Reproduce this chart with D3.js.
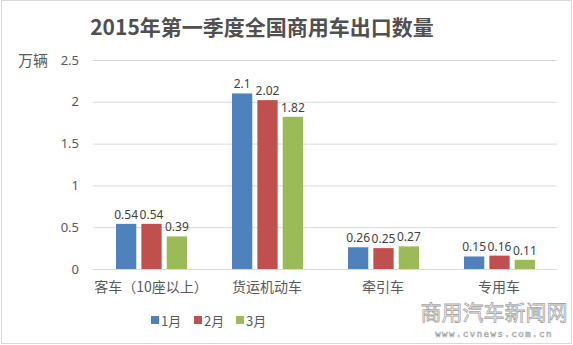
<!DOCTYPE html>
<html>
<head>
<meta charset="utf-8">
<script src="https://cdn.jsdelivr.net/npm/d3@7/dist/d3.min.js"></script>
<style>
  html, body { margin: 0; padding: 0; background: #fff; }
  svg { display: block; font-family: "Noto Sans CJK SC", "Microsoft YaHei", sans-serif; }
</style>
</head>
<body>
<svg id="chart" width="573" height="345"></svg>
<script>
// Commercial vehicle exports, Q1 2015 (unit: 10,000 vehicles)
const categories = ["客车（10座以上）", "货运机动车", "牵引车", "专用车"];
const months = ["1月", "2月", "3月"];
const jan = [0.54, 2.1, 0.26, 0.15];
const feb = [0.54, 2.02, 0.25, 0.16];
const mar = [0.39, 1.82, 0.27, 0.11];
const yTicks = [0, 0.5, 1, 1.5, 2, 2.5];
const colors = ["#4F81BD", "#C0504D", "#9BBB59"];

const series = [jan, feb, mar];
const rows = categories.map((c, i) => ({
  category: c,
  values: months.map((m, j) => ({ month: m, value: series[j][i], idx: j }))
}));

const svg = d3.select("#chart");
const W = 573, H = 345;
const plot = { left: 93, right: 557, top: 60, bottom: 269 };
const textColor = "#595959";

// outer frame
svg.append("rect")
  .attr("x", 1.5).attr("y", 0.5).attr("width", W - 3).attr("height", H - 2)
  .attr("fill", "#fff").attr("stroke", "#d9d9d9").attr("stroke-width", 1);

const x = d3.scaleBand().domain(categories).range([plot.left, plot.right]).padding(0);
const xi = d3.scaleBand().domain(months).range([23, 94]).paddingInner(0.2).paddingOuter(0);
const y = d3.scaleLinear().domain([0, 2.5]).range([plot.bottom, plot.top]);

// title
svg.append("text")
  .attr("x", 262).attr("y", 35)
  .attr("text-anchor", "middle")
  .attr("font-size", 21).attr("font-weight", "bold")
  .attr("fill", "#505050")
  .text("2015年第一季度全国商用车出口数量");

// unit label
svg.append("text")
  .attr("x", 18).attr("y", 66)
  .attr("font-size", 15).attr("fill", textColor)
  .text("万辆");

// y axis with gridlines
const yAxis = d3.axisLeft(y).tickValues(yTicks).tickFormat(d3.format("")).tickSize(-(plot.right - plot.left)).tickPadding(14);
const yg = svg.append("g").attr("transform", `translate(${plot.left},0)`).call(yAxis);
yg.select(".domain").remove();
yg.selectAll(".tick line").attr("stroke", "#d9d9d9");
yg.selectAll(".tick text").attr("fill", textColor).attr("font-size", 13)
  .attr("font-family", "\"Noto Sans\", \"DejaVu Sans\", sans-serif");

// bars
const groups = svg.append("g").selectAll("g").data(rows).join("g")
  .attr("transform", d => `translate(${x(d.category)},0)`);

groups.selectAll("rect").data(d => d.values).join("rect")
  .attr("x", d => xi(d.month))
  .attr("y", d => y(d.value))
  .attr("width", xi.bandwidth())
  .attr("height", d => y(0) - y(d.value))
  .attr("fill", d => colors[d.idx]);

groups.selectAll("text.val").data(d => d.values).join("text")
  .attr("class", "val")
  .attr("x", d => xi(d.month) + xi.bandwidth() / 2)
  .attr("y", d => y(d.value) - 5)
  .attr("text-anchor", "middle")
  .attr("font-size", 12).attr("fill", "#404040")
  .attr("font-family", "\"Noto Sans\", \"DejaVu Sans\", sans-serif")
  .text(d => d.value);

// baseline
svg.append("line")
  .attr("x1", plot.left).attr("x2", plot.right)
  .attr("y1", y(0) + 0.5).attr("y2", y(0) + 0.5)
  .attr("stroke", "#d9d9d9");

// category labels
svg.append("g").selectAll("text").data(categories).join("text")
  .attr("x", d => x(d) + x.bandwidth() / 2)
  .attr("y", 292)
  .attr("text-anchor", "middle")
  .attr("font-size", 14).attr("fill", textColor)
  .text(d => d);

// legend
const legendX = [151, 194, 236];
const lg = svg.append("g").selectAll("g").data(months).join("g")
  .attr("transform", (d, i) => `translate(${legendX[i]},321)`);
lg.append("rect").attr("x", 0).attr("y", -5).attr("width", 8).attr("height", 8)
  .attr("fill", (d, i) => colors[i]);
lg.append("text").attr("x", 10).attr("y", 4.5)
  .attr("font-size", 13).attr("fill", textColor)
  .text(d => d);

// site mark, bottom right
svg.append("text")
  .attr("x", 494).attr("y", 320)
  .attr("text-anchor", "middle")
  .attr("font-size", 21).attr("font-family", "\"Noto Sans CJK SC\", serif")
  .attr("fill", "#ffffff").attr("stroke", "#a6a6a6").attr("stroke-width", 0.8)
  .text("商用汽车新闻网");
svg.append("text")
  .attr("x", 494).attr("y", 337)
  .attr("text-anchor", "middle")
  .attr("font-size", 9).attr("font-family", "\"DejaVu Sans Mono\", monospace")
  .attr("fill", "#ffffff").attr("stroke", "#a6a6a6").attr("stroke-width", 0.6)
  .attr("letter-spacing", 1.5)
  .text("www.cvnews.com.cn");
</script>
</body>
</html>
